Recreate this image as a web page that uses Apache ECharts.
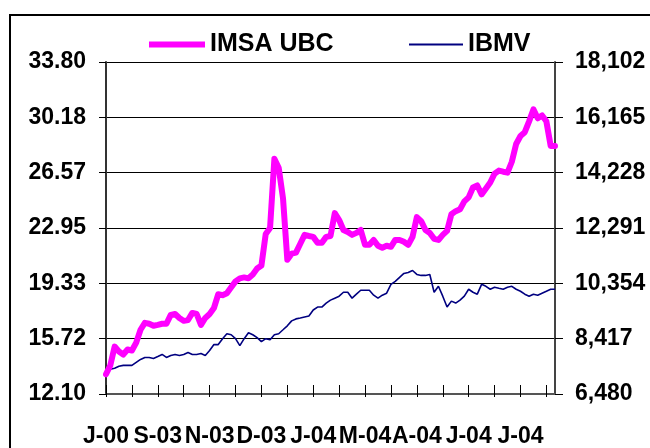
<!DOCTYPE html>
<html>
<head>
<meta charset="utf-8">
<script src="https://cdn.jsdelivr.net/npm/echarts@6/dist/echarts.min.js"></script>
<style>
html,body{margin:0;padding:0;background:#fff;}
#main{width:650px;height:448px;}
</style>
</head>
<body>
<div id="main"></div>
<script>
// etiquetas del eje x (una cada labelStep puntos)
var xLabels = ['J-00','S-03','N-03','D-03','J-04','M-04','A-04','J-04','J-04'];
var labelStep = 12;
var tickStep = 6;

// IMSA UBC (eje izquierdo)
var imsaUbc = [
	13.39,13.97,15.20,14.88,14.68,15.01,14.94,15.46,16.30,16.75,
	16.69,16.56,16.62,16.69,16.69,17.27,17.33,17.07,16.88,16.94,
	17.40,17.33,16.62,17.07,17.33,17.72,18.62,18.56,18.69,19.08,
	19.46,19.66,19.72,19.66,19.91,20.30,20.50,22.56,22.95,27.47,
	26.89,24.89,20.88,21.27,21.34,21.92,22.50,22.43,22.37,21.98,
	21.98,22.37,22.43,23.92,23.47,22.82,22.69,22.50,22.63,22.82,
	21.85,21.85,22.17,21.79,21.66,21.79,21.72,22.17,22.17,22.05,
	21.85,22.37,23.66,23.40,22.82,22.63,22.24,22.17,22.50,22.76,
	23.85,24.05,24.18,24.69,24.95,25.60,25.73,25.15,25.53,25.92,
	26.50,26.70,26.63,26.57,27.28,28.44,28.96,29.21,29.92,30.70,
	30.12,30.31,29.92,28.31,28.31
];

// IBMV (eje derecho)
var ibmv = [
	7276,7345,7379,7449,7483,7483,7483,7587,7691,7760,
	7760,7725,7794,7864,7760,7829,7864,7829,7864,7933,
	7864,7864,7898,7829,8002,8210,8210,8417,8590,8555,
	8417,8175,8417,8625,8555,8452,8313,8417,8382,8555,
	8590,8728,8867,9040,9109,9143,9178,9213,9420,9524,
	9524,9662,9766,9835,9904,10043,10043,9835,9974,10112,
	10112,10112,9939,9835,9939,10008,10319,10423,10562,10700,
	10735,10804,10665,10631,10631,10665,10043,10250,9904,9524,
	9731,9662,9766,9904,10147,10043,9974,10319,10250,10147,
	10216,10181,10147,10216,10250,10147,10077,9974,9904,9974,
	9939,10008,10077,10147,10147
];

var leftTicks = [12.10, 15.72, 19.33, 22.95, 26.57, 30.18, 33.80];
var rightTicks = [6480, 8417, 10354, 12291, 14228, 16165, 18102];

var categories = [];
for (var i = 0; i < imsaUbc.length; i++) {
	categories.push(String(i));
}

function conComas(v) {
	return Math.round(v).toString().replace(/\B(?=(\d{3})+(?!\d))/g, ',');
}

var fuente = 'Liberation Sans, Arial, sans-serif';
var estiloLeyenda = {fontFamily: fuente, fontWeight: 'bold', fontSize: 25, color: '#000'};

var myChart = echarts.init(document.getElementById('main'), null, {renderer: 'canvas'});
var option = {
	backgroundColor: '#fff',
	animation: false,
	graphic: [{
		type: 'rect',
		shape: {x: 10, y: 15, width: 700, height: 500},
		style: {fill: 'none', stroke: '#000', lineWidth: 2},
		silent: true
	}],
	// dos leyendas para poder dar grosor distinto a cada línea
	legend: [{
		top: 27,
		left: 144,
		icon: 'rect',
		itemWidth: 56,
		itemHeight: 6,
		textStyle: estiloLeyenda,
		data: ['IMSA UBC']
	}, {
		top: 27,
		left: 404,
		icon: 'rect',
		itemWidth: 54,
		itemHeight: 2,
		textStyle: estiloLeyenda,
		data: ['IBMV']
	}],
	grid: {
		left: 106,
		right: 95,
		top: 62,
		bottom: 50
	},
	xAxis: [{
		type: 'category',
		data: categories,
		boundaryGap: false,
		axisLine: {lineStyle: {color: '#555', width: 2}},
		axisTick: {
			interval: tickStep - 1,
			inside: true,
			length: 9,
			lineStyle: {color: '#000', width: 1}
		},
		axisLabel: {
			interval: labelStep - 1,
			margin: 31,
			fontFamily: fuente,
			fontWeight: 'bold',
			fontSize: 23,
			color: '#000',
			formatter: function (value, index) {
				return xLabels[index / labelStep] || '';
			}
		},
		splitLine: {show: false}
	}, {
		// solo marcas hacia fuera, para que crucen el eje
		type: 'category',
		data: categories,
		boundaryGap: false,
		position: 'bottom',
		axisLine: {show: false},
		axisTick: {
			interval: tickStep - 1,
			length: 3,
			lineStyle: {color: '#000', width: 1}
		},
		axisLabel: {show: false},
		splitLine: {show: false}
	}],
	yAxis: [{
		type: 'value',
		position: 'left',
		min: leftTicks[0],
		max: leftTicks[leftTicks.length - 1],
		interval: (leftTicks[leftTicks.length - 1] - leftTicks[0]) / (leftTicks.length - 1),
		axisLine: {show: true, lineStyle: {color: '#333', width: 2}},
		axisTick: {show: true, length: 7, lineStyle: {color: '#000'}},
		axisLabel: {
			margin: 20,
			fontFamily: fuente,
			fontWeight: 'bold',
			fontSize: 23,
			color: '#000',
			formatter: function (v) { return v.toFixed(2); }
		},
		splitLine: {show: true, lineStyle: {color: '#000', width: 1}}
	}, {
		type: 'value',
		position: 'right',
		min: rightTicks[0],
		max: rightTicks[rightTicks.length - 1],
		interval: (rightTicks[rightTicks.length - 1] - rightTicks[0]) / (rightTicks.length - 1),
		axisLine: {show: true, lineStyle: {color: '#444', width: 2}},
		axisTick: {show: true, length: 8, lineStyle: {color: '#000'}},
		axisLabel: {
			margin: 20,
			fontFamily: fuente,
			fontWeight: 'bold',
			fontSize: 23,
			color: '#000',
			formatter: function (v) { return conComas(v); }
		},
		splitLine: {show: false}
	}],
	series: [{
		name: 'IMSA UBC',
		type: 'line',
		yAxisIndex: 0,
		data: imsaUbc,
		symbol: 'none',
		lineStyle: {color: '#FF00FF', width: 6, join: 'round', cap: 'round'},
		itemStyle: {color: '#FF00FF'},
		z: 3
	}, {
		name: 'IBMV',
		type: 'line',
		yAxisIndex: 1,
		data: ibmv,
		symbol: 'none',
		lineStyle: {color: '#000080', width: 1.6},
		itemStyle: {color: '#000080'},
		z: 2
	}]
};
myChart.setOption(option);
</script>
</body>
</html>
